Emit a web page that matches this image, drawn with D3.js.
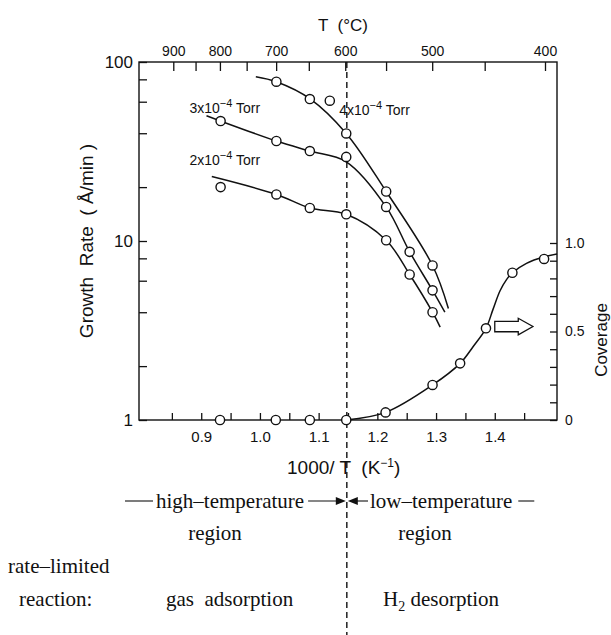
<!DOCTYPE html>
<html>
<head>
<meta charset="utf-8">
<script src="https://cdn.jsdelivr.net/npm/d3@7"></script>
<style>
  body { margin: 0; background: #fff; }
  svg { display: block; }
  .axis line { stroke: #111; stroke-width: 1.3; }
  .axis path { display: none; }
  .axis text { font-family: "Liberation Sans", Arial, sans-serif; fill: #111; }
  .lbl { font-family: "Liberation Sans", Arial, sans-serif; fill: #111; white-space: pre; }
  .note { font-family: "Liberation Serif", "Times New Roman", serif; font-size: 21px; fill: #111; white-space: pre; }
</style>
</head>
<body>
<svg id="chart" width="611" height="635"></svg>
<script>
// growth rate (A/min) vs 1000/T for three pressures
const rate4X = [1.028, 1.085, 1.119, 1.147, 1.215, 1.294];
const rate4Y = [77.6, 62.1, 60.8, 39.9, 18.9, 7.3];
const rate3X = [0.933, 1.028, 1.085, 1.147, 1.215, 1.255, 1.294];
const rate3Y = [46.8, 36.2, 31.8, 29.5, 15.5, 8.7, 5.3];
const rate2X = [0.933, 1.028, 1.085, 1.147, 1.215, 1.255, 1.294];
const rate2Y = [20.0, 18.2, 15.3, 14.1, 10.1, 6.5, 4.0];

// hydrogen coverage
const covX = [0.932, 1.027, 1.085, 1.147, 1.214, 1.294, 1.341, 1.385, 1.430, 1.484];
const covY = [0, 0, 0, 0, 0.043, 0.198, 0.32, 0.518, 0.832, 0.91];

// hand drawn fit lines
const fit4X = [0.993, 1.028, 1.086, 1.147, 1.215, 1.294, 1.321];
const fit4Y = [82.8, 77.6, 62.1, 39.9, 18.9, 7.3, 4.2];
const fit3X = [0.909, 0.933, 1.028, 1.085, 1.147, 1.215, 1.255, 1.294, 1.315];
const fit3Y = [50.1, 46.8, 36.2, 31.8, 27.7, 15.5, 8.7, 5.3, 4.0];
const fit2X = [0.918, 1.028, 1.085, 1.147, 1.215, 1.255, 1.294, 1.307];
const fit2Y = [22.9, 18.2, 15.3, 14.1, 10.1, 6.5, 4.0, 3.3];
const fitCovX = [1.147, 1.214, 1.294, 1.341, 1.363, 1.385, 1.397, 1.409, 1.420, 1.430, 1.454, 1.484, 1.506];
const fitCovY = [0, 0.043, 0.198, 0.32, 0.414, 0.518, 0.625, 0.73, 0.793, 0.832, 0.885, 0.922, 0.938];

// axes
const invTTicks = [0.9, 1.0, 1.1, 1.2, 1.3, 1.4];
const invTMinor = [0.85, 0.95, 1.05, 1.15, 1.25, 1.35, 1.45];
const celsiusTicks = [900, 800, 700, 600, 500, 400];
const celsiusMinor = [850, 750, 650, 550, 450];
const rateTicks = [1, 10, 100];
const rateMinor = [2, 4, 6, 8, 20, 40, 60, 80];
const covTicks = [0, 0.5, 1.0];
const covMinor = [0.1, 0.2, 0.3, 0.4, 0.6, 0.7, 0.8, 0.9];

const seriesLabels = ["3x10", "2x10", "4x10"];
const boundary = 1.148;

const svg = d3.select("#chart");

const x = d3.scaleLinear().domain([0.794, 1.506]).range([139, 557]);
const y = d3.scaleLog().domain([1, 100]).range([420, 62]);
const yc = d3.scaleLinear().domain([0, 1]).range([420, 243]);
const toInv = (c) => 1000 / (c + 273.15);

// frame
svg.append("rect")
    .attr("x", 139).attr("y", 62)
    .attr("width", 557 - 139).attr("height", 420 - 62)
    .attr("fill", "none").attr("stroke", "#111").attr("stroke-width", 1.4);

// bottom axis
svg.append("g").attr("class", "axis").attr("transform", "translate(0,420)")
    .call(d3.axisBottom(x).tickValues(invTTicks).tickSize(-7).tickPadding(11).tickFormat(d3.format(".1f")))
    .selectAll("text").style("font-size", "15px");
svg.append("g").attr("class", "axis").attr("transform", "translate(0,420)")
    .call(d3.axisBottom(x).tickValues(invTMinor).tickSize(-7).tickFormat(""));

// top axis in degrees C
svg.append("g").attr("class", "axis").attr("transform", "translate(0,62)")
    .call(d3.axisTop(x).tickValues(celsiusTicks.map(toInv)).tickSize(-9).tickPadding(6)
        .tickFormat((d, i) => celsiusTicks[i]))
    .selectAll("text").style("font-size", "14px");
svg.append("g").attr("class", "axis").attr("transform", "translate(0,62)")
    .call(d3.axisTop(x).tickValues(celsiusMinor.map(toInv)).tickSize(-9).tickFormat(""));

// left axis, log
svg.append("g").attr("class", "axis").attr("transform", "translate(139,0)")
    .call(d3.axisLeft(y).tickValues(rateTicks).tickSize(-8).tickPadding(6).tickFormat(d3.format("d")))
    .selectAll("text").style("font-size", "17px");
svg.append("g").attr("class", "axis").attr("transform", "translate(139,0)")
    .call(d3.axisLeft(y).tickValues(rateMinor).tickSize(-8).tickFormat(""));

// right axis, coverage
svg.append("g").attr("class", "axis").attr("transform", "translate(557,0)")
    .call(d3.axisRight(yc).tickValues(covTicks).tickSize(-7).tickPadding(8)
        .tickFormat((d) => d === 0 ? "0" : d3.format(".1f")(d)))
    .selectAll("text").style("font-size", "14px");
svg.append("g").attr("class", "axis").attr("transform", "translate(557,0)")
    .call(d3.axisRight(yc).tickValues(covMinor).tickSize(-7).tickFormat(""));

// axis titles
svg.append("text").attr("class", "lbl")
    .attr("transform", "translate(93,241) rotate(-90)")
    .attr("text-anchor", "middle").style("font-size", "19px")
    .text("Growth  Rate  ( \u00c5/min )");
svg.append("text").attr("class", "lbl")
    .attr("transform", "translate(607,340) rotate(-90)")
    .attr("text-anchor", "middle").style("font-size", "17px")
    .text("Coverage");
svg.append("text").attr("class", "lbl")
    .attr("x", 318).attr("y", 31).style("font-size", "17px")
    .text("T  (\u00b0C)");
const xt = svg.append("text").attr("class", "lbl")
    .attr("x", 287).attr("y", 474).style("font-size", "19px");
xt.append("tspan").text("1000/ T  (K");
xt.append("tspan").attr("dy", -7).style("font-size", "12px").text("\u22121");
xt.append("tspan").attr("dy", 7).text(")");

// boundary line
svg.append("line")
    .attr("x1", x(boundary)).attr("x2", x(boundary))
    .attr("y1", 62).attr("y2", 635)
    .attr("stroke", "#111").attr("stroke-width", 1.4).attr("stroke-dasharray", "6,4");

// fit curves
const rateLine = d3.line().x((d) => x(d[0])).y((d) => y(d[1])).curve(d3.curveCatmullRom.alpha(0.5));
const covLine = d3.line().x((d) => x(d[0])).y((d) => yc(d[1])).curve(d3.curveCatmullRom.alpha(0.5));

[[fit4X, fit4Y], [fit3X, fit3Y], [fit2X, fit2Y]].forEach(([fx, fy]) => {
    svg.append("path")
        .datum(d3.zip(fx, fy))
        .attr("d", rateLine)
        .attr("fill", "none").attr("stroke", "#111").attr("stroke-width", 1.5);
});
svg.append("path")
    .datum(d3.zip(fitCovX, fitCovY))
    .attr("d", covLine)
    .attr("fill", "none").attr("stroke", "#111").attr("stroke-width", 1.5);

// data points
[[rate4X, rate4Y], [rate3X, rate3Y], [rate2X, rate2Y]].forEach(([px, py]) => {
    svg.append("g").selectAll("circle")
        .data(d3.zip(px, py))
        .enter()
        .append("circle")
        .attr("cx", (d) => x(d[0]))
        .attr("cy", (d) => y(d[1]))
        .attr("r", 4.6)
        .attr("fill", "#fff").attr("stroke", "#111").attr("stroke-width", 1.4);
});
svg.append("g").selectAll("circle")
    .data(d3.zip(covX, covY))
    .enter()
    .append("circle")
    .attr("cx", (d) => x(d[0]))
    .attr("cy", (d) => yc(d[1]))
    .attr("r", 4.6)
    .attr("fill", "#fff").attr("stroke", "#111").attr("stroke-width", 1.4);

// pressure labels
const labelPos = [[0.880, 51.7], [0.880, 26.6], [1.135, 50.6]];
seriesLabels.forEach((s, i) => {
    const t = svg.append("text").attr("class", "lbl")
        .attr("x", x(labelPos[i][0])).attr("y", y(labelPos[i][1]))
        .style("font-size", "14px");
    t.append("tspan").text(s);
    t.append("tspan").attr("dy", -6).style("font-size", "11px").text("\u22124");
    t.append("tspan").attr("dy", 6).text(" Torr");
});

// hollow arrow pointing at the coverage axis
const ax0 = x(1.400), ax1 = x(1.465), axh = x(1.440), ay = yc(0.528);
svg.append("path")
    .attr("d", `M${ax0},${ay - 5.2}L${axh},${ay - 5.2}L${axh},${ay - 8.3}L${ax1},${ay}` +
        `L${axh},${ay + 8.3}L${axh},${ay + 5.2}L${ax0},${ay + 5.2}Z`)
    .attr("fill", "#fff").attr("stroke", "#111").attr("stroke-width", 1.3);

// region notes under the chart
const bx = x(boundary);
const notes = svg.append("g");
const hi = notes.append("text").attr("class", "note").attr("x", 156).attr("y", 508).text("high\u2013temperature");
const lo = notes.append("text").attr("class", "note").attr("x", 370).attr("y", 508).text("low\u2013temperature");
const hiEnd = 156 + hi.node().getComputedTextLength();
const loEnd = 370 + lo.node().getComputedTextLength();
[[125, 153], [hiEnd + 4, bx - 6], [bx + 6, 368], [loEnd + 6, loEnd + 22]].forEach(([a, b]) => {
    notes.append("line").attr("x1", a).attr("x2", b).attr("y1", 501).attr("y2", 501)
        .attr("stroke", "#111").attr("stroke-width", 1.1);
});
notes.append("path").attr("d", `M${bx - 11},${497}L${bx - 1},${501}L${bx - 11},${505}Z`).attr("fill", "#111");
notes.append("path").attr("d", `M${bx + 11},${497}L${bx + 1},${501}L${bx + 11},${505}Z`).attr("fill", "#111");

notes.append("text").attr("class", "note").attr("x", 215).attr("y", 540).attr("text-anchor", "middle").text("region");
notes.append("text").attr("class", "note").attr("x", 425).attr("y", 540).attr("text-anchor", "middle").text("region");
notes.append("text").attr("class", "note").attr("x", 8).attr("y", 573).text("rate\u2013limited");
notes.append("text").attr("class", "note").attr("x", 19).attr("y", 606).text("reaction:");
notes.append("text").attr("class", "note").attr("x", 166).attr("y", 606).text("gas  adsorption");
const h2 = notes.append("text").attr("class", "note").attr("x", 383).attr("y", 606);
h2.append("tspan").text("H");
h2.append("tspan").attr("dy", 5).style("font-size", "14px").text("2");
h2.append("tspan").attr("dy", -5).text(" desorption");
</script>
</body>
</html>
